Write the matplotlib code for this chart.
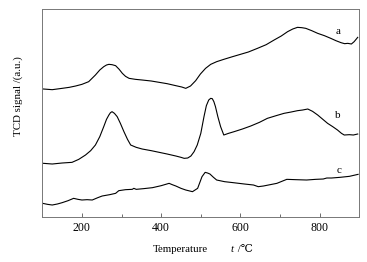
import matplotlib
matplotlib.use("Agg")
import matplotlib.pyplot as plt
from matplotlib.ticker import MultipleLocator

temp_a = [103, 125, 150, 168, 184, 200, 217, 234, 245, 255, 262, 268, 276, 285, 294, 302, 310, 319, 335, 352,
          375, 395, 415, 437, 452, 462, 474, 487, 499, 512, 525, 540, 558, 580, 600, 620, 643, 665, 685, 703,
          719, 732, 744, 755, 765, 780, 795, 812, 828, 841, 854, 863, 871, 880, 887, 896]
sig_a = [383, 381, 385, 388, 392, 397, 405, 425, 440, 450, 455, 457, 456, 453, 442, 430, 421, 415, 412, 410,
         407, 403, 399, 393, 389, 385, 392, 408, 428, 445, 457, 465, 472, 480, 487, 494, 505, 516, 530, 542,
         555, 563, 568, 567, 565, 558, 550, 543, 535, 528, 522, 519, 520, 518, 525, 538]

temp_b = [103, 125, 150, 175, 192, 209, 222, 234, 245, 255, 262, 268, 272, 276, 282, 289, 297, 306, 315, 323,
          337, 352, 375, 395, 415, 437, 450, 458, 467, 475, 483, 491, 500, 508, 514, 520, 525, 529, 533, 537,
          543, 550, 558, 570, 584, 605, 626, 648, 668, 690, 710, 728, 744, 757, 770, 782, 795, 808, 820, 833,
          845, 855, 862, 875, 885, 896]
sig_b = [160, 158, 161, 163, 172, 185, 198, 215, 240, 270, 292, 305, 312, 315, 310, 300, 280, 255, 232, 215,
         208, 203, 198, 193, 188, 182, 178, 175, 176, 182, 195, 215, 250, 300, 333, 350, 355, 354, 345, 330,
         300, 270, 245, 250, 255, 263, 272, 283, 295, 303, 310, 314, 318, 320, 323, 316, 305, 292, 280, 270,
         260, 250, 245, 246, 245, 248]

temp_c = [101, 113, 125, 138, 150, 165, 179, 190, 200, 213, 226, 240, 251, 270, 285, 293, 310, 327, 331, 337,
          355, 378, 400, 420, 428, 437, 450, 462, 479, 492, 503, 511, 517, 523, 532, 540, 560, 582, 610, 633,
          645, 658, 675, 692, 717, 740, 767, 790, 809, 818, 830, 851, 875, 897]
sig_c = [40, 37, 35, 38, 42, 48, 55, 52, 50, 51, 50, 57, 62, 66, 70, 78, 81, 82, 85, 82,
         84, 87, 93, 100, 96, 92, 85, 80, 75, 85, 120, 133, 131, 128, 118, 110, 105, 102, 98, 95,
         90, 92, 96, 100, 112, 111, 110, 112, 113, 116, 116, 118, 121, 127]

curve_labels = ["a", "b", "c"]
label_pos_t = [840, 838, 842]
label_pos_s = [557, 305, 140]

xticks = [200, 400, 600, 800]

fig = plt.figure(figsize=(3.67, 2.62), dpi=100)
ax = fig.add_axes([0.1153, 0.173, 0.8637, 0.7926])
serif = ["Liberation Serif", "DejaVu Serif"]

for t, s in [(temp_a, sig_a), (temp_b, sig_b), (temp_c, sig_c)]:
    ax.plot(t, s, color="black", lw=0.8)

for lab, tx, sy in zip(curve_labels, label_pos_t, label_pos_s):
    ax.text(tx, sy, lab, family=serif, fontsize=8, ha="left", va="center")

ax.set_xlim(100, 900)
ax.set_ylim(0, 623)
ax.set_xticks(xticks)
ax.xaxis.set_minor_locator(MultipleLocator(100))
ax.set_yticks([])
ax.tick_params(axis="x", which="both", direction="in", colors="#555555", labelcolor="black",
               labelsize=8.5, pad=4)
ax.tick_params(axis="x", which="major", length=3, width=0.6)
ax.tick_params(axis="x", which="minor", length=2, width=0.6)
for lab in ax.get_xticklabels():
    lab.set_family(serif)
for sp in ax.spines.values():
    sp.set_color("#777777")
    sp.set_linewidth(0.7)

fig.text(153 / 367, 1 - 249 / 262, "Temperature", family=serif, fontsize=7.8, ha="left", va="center")
fig.text(231 / 367, 1 - 249 / 262, "t", family=serif, style="italic", fontsize=7.8, ha="left", va="center")
fig.text(235 / 367, 1 - 249 / 262, " /℃", family=serif, fontsize=7.8, ha="left", va="center")
fig.text(18 / 367, 1 - 96 / 262, "TCD signal /(a.u.)", family=serif, fontsize=7.8, rotation=90,
         ha="center", va="center")

fig.savefig("out.png", dpi=100)
